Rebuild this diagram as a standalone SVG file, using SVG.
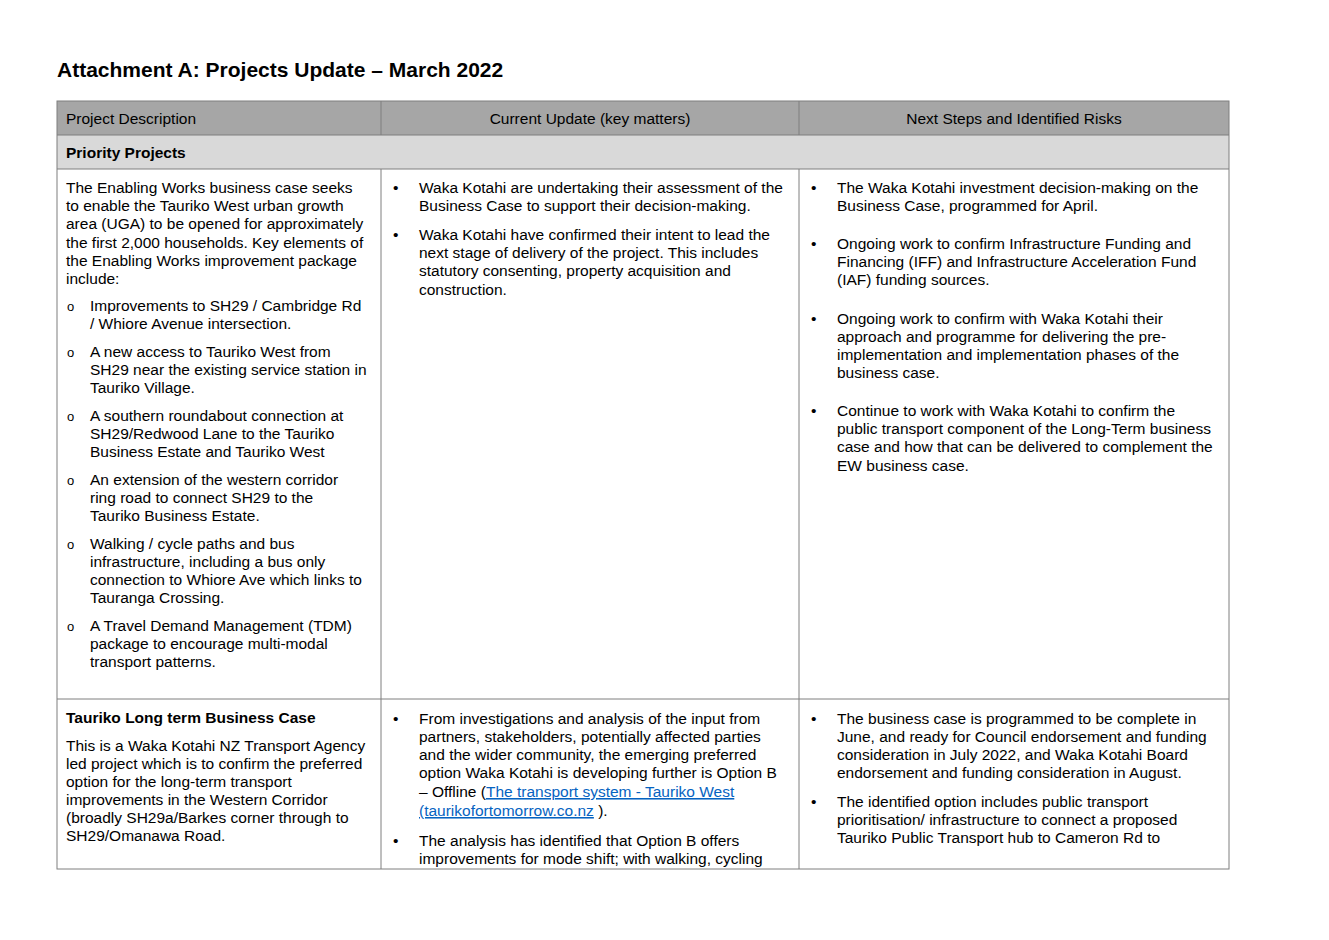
<svg xmlns="http://www.w3.org/2000/svg" width="1329" height="940" viewBox="0 0 1329 940">
<style>
text{font-family:"Liberation Sans",Arial,sans-serif;font-size:15.5px;fill:#000}
.b{font-weight:bold}
.l{fill:#0563c1;text-decoration:underline}
.g{stroke:#7f7f7f;stroke-width:1;fill:none}
</style>
<rect width="1329" height="940" fill="#fff"/>
<text x="57" y="77" class="b" style="font-size:21px">Attachment A: Projects Update – March 2022</text>
<rect x="57" y="101" width="1172" height="34" fill="#a6a6a6"/>
<rect x="57" y="135" width="1172" height="34" fill="#d9d9d9"/>
<g class="g">
<rect x="57" y="101" width="1172" height="768"/>
<line x1="57" y1="135" x2="1229" y2="135"/>
<line x1="57" y1="169" x2="1229" y2="169"/>
<line x1="57" y1="699" x2="1229" y2="699"/>
<line x1="381" y1="101" x2="381" y2="135"/>
<line x1="799" y1="101" x2="799" y2="135"/>
<line x1="381" y1="169" x2="381" y2="869"/>
<line x1="799" y1="169" x2="799" y2="869"/>
</g>
<text x="66" y="124">Project Description</text>
<text x="590" y="124" text-anchor="middle">Current Update (key matters)</text>
<text x="1014" y="124" text-anchor="middle">Next Steps and Identified Risks</text>
<text x="66" y="158" class="b">Priority Projects</text>
<g id="col1">
<text x="66" y="193">The Enabling Works business case seeks</text>
<text x="66" y="211">to enable the Tauriko West urban growth</text>
<text x="66" y="229">area (UGA) to be opened for approximately</text>
<text x="66" y="248">the first 2,000 households. Key elements of</text>
<text x="66" y="266">the Enabling Works improvement package</text>
<text x="66" y="284">include:</text>
<g style="font-size:13px"><text x="67" y="311" style="font-size:13px">o</text><text x="67" y="357" style="font-size:13px">o</text><text x="67" y="421" style="font-size:13px">o</text><text x="67" y="485" style="font-size:13px">o</text><text x="67" y="549" style="font-size:13px">o</text><text x="67" y="631" style="font-size:13px">o</text></g>
<text x="90" y="311">Improvements to SH29 / Cambridge Rd</text>
<text x="90" y="329">/ Whiore Avenue intersection.</text>
<text x="90" y="357">A new access to Tauriko West from</text>
<text x="90" y="375">SH29 near the existing service station in</text>
<text x="90" y="393">Tauriko Village.</text>
<text x="90" y="421">A southern roundabout connection at</text>
<text x="90" y="439">SH29/Redwood Lane to the Tauriko</text>
<text x="90" y="457">Business Estate and Tauriko West</text>
<text x="90" y="485">An extension of the western corridor</text>
<text x="90" y="503">ring road to connect SH29 to the</text>
<text x="90" y="521">Tauriko Business Estate.</text>
<text x="90" y="549">Walking / cycle paths and bus</text>
<text x="90" y="567">infrastructure, including a bus only</text>
<text x="90" y="585">connection to Whiore Ave which links to</text>
<text x="90" y="603">Tauranga Crossing.</text>
<text x="90" y="631">A Travel Demand Management (TDM)</text>
<text x="90" y="649">package to encourage multi-modal</text>
<text x="90" y="667">transport patterns.</text>
</g>
<g id="col2">
<text x="393" y="193">•</text><text x="393" y="240">•</text>
<text x="419" y="193">Waka Kotahi are undertaking their assessment of the</text>
<text x="419" y="211">Business Case to support their decision-making.</text>
<text x="419" y="240">Waka Kotahi have confirmed their intent to lead the</text>
<text x="419" y="258">next stage of delivery of the project. This includes</text>
<text x="419" y="276">statutory consenting, property acquisition and</text>
<text x="419" y="295">construction.</text>
</g>
<g id="col3">
<text x="811" y="193">•</text><text x="811" y="249">•</text><text x="811" y="324">•</text><text x="811" y="416">•</text>
<text x="837" y="193">The Waka Kotahi investment decision-making on the</text>
<text x="837" y="211">Business Case, programmed for April.</text>
<text x="837" y="249">Ongoing work to confirm Infrastructure Funding and</text>
<text x="837" y="267">Financing (IFF) and Infrastructure Acceleration Fund</text>
<text x="837" y="285">(IAF) funding sources.</text>
<text x="837" y="324">Ongoing work to confirm with Waka Kotahi their</text>
<text x="837" y="342">approach and programme for delivering the pre-</text>
<text x="837" y="360">implementation and implementation phases of the</text>
<text x="837" y="378">business case.</text>
<text x="837" y="416">Continue to work with Waka Kotahi to confirm the</text>
<text x="837" y="434">public transport component of the Long-Term business</text>
<text x="837" y="452">case and how that can be delivered to complement the</text>
<text x="837" y="471">EW business case.</text>
</g>
<g id="row2col1">
<text x="66" y="723" class="b">Tauriko Long term Business Case</text>
<text x="66" y="751">This is a Waka Kotahi NZ Transport Agency</text>
<text x="66" y="769">led project which is to confirm the preferred</text>
<text x="66" y="787">option for the long-term transport</text>
<text x="66" y="805">improvements in the Western Corridor</text>
<text x="66" y="823">(broadly SH29a/Barkes corner through to</text>
<text x="66" y="841">SH29/Omanawa Road.</text>
</g>
<g id="row2col2">
<text x="393" y="724">•</text><text x="393" y="846">•</text>
<text x="419" y="724">From investigations and analysis of the input from</text>
<text x="419" y="742">partners, stakeholders, potentially affected parties</text>
<text x="419" y="760">and the wider community, the emerging preferred</text>
<text x="419" y="778">option Waka Kotahi is developing further is Option B</text>
<text x="419" y="797">– Offline (<tspan class="l">The transport system - Tauriko West</tspan></text>
<text x="419" y="816"><tspan class="l">(taurikofortomorrow.co.nz</tspan> ).</text>
<text x="419" y="846">The analysis has identified that Option B offers</text>
<text x="419" y="864">improvements for mode shift; with walking, cycling</text>
</g>
<g id="row2col3">
<text x="811" y="724">•</text><text x="811" y="807">•</text>
<text x="837" y="724">The business case is programmed to be complete in</text>
<text x="837" y="742">June, and ready for Council endorsement and funding</text>
<text x="837" y="760">consideration in July 2022, and Waka Kotahi Board</text>
<text x="837" y="778">endorsement and funding consideration in August.</text>
<text x="837" y="807">The identified option includes public transport</text>
<text x="837" y="825">prioritisation/ infrastructure to connect a proposed</text>
<text x="837" y="843">Tauriko Public Transport hub to Cameron Rd to</text>
</g>
</svg>
